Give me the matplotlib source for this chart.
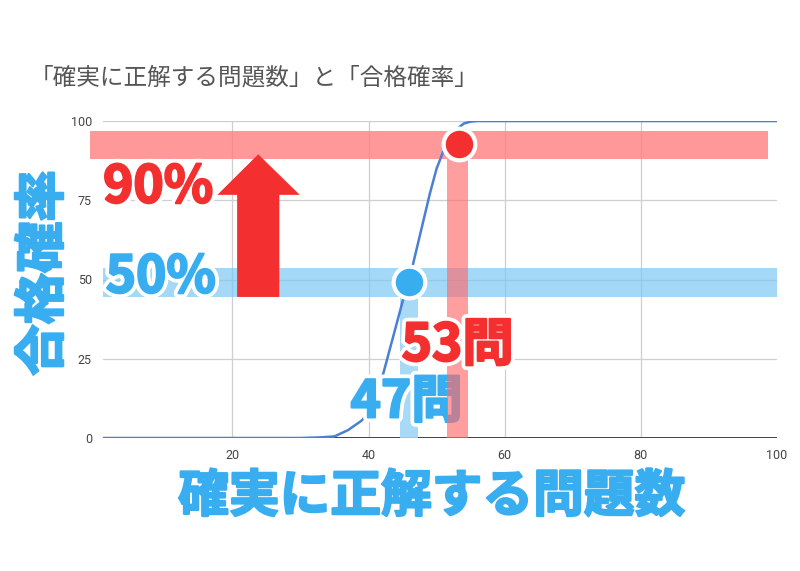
import matplotlib.pyplot as plt
import matplotlib.patheffects as pe
import numpy as np

plt.rcParams['font.family'] = ['Noto Sans CJK JP', 'DejaVu Sans']

# Data
x_vals = [1, 30, 33, 35, 37, 38, 39, 40, 41, 42, 43, 44, 45, 46, 47, 48,
          49, 50, 51, 52, 53, 54, 55, 56, 100]
y_vals = [0, 0, 0.2, 0.5, 2.5, 4, 5.5, 8, 13, 19, 27, 35, 43, 50, 59, 68,
          77, 85, 90.5, 94.5, 97.5, 99.2, 99.8, 100, 100]

x_ticks = [20, 40, 60, 80, 100]
y_ticks = [0, 25, 50, 75, 100]

pt90 = (53.3, 92.8)
pt50 = (46.0, 49.3)

title = "「確実に正解する問題数」と「合格確率」"
xlabel = "確実に正解する問題数"
ylabel = "合格確率"

RED = "#f3302f"
BLUE = "#38adf0"

fig = plt.figure(figsize=(8, 5.71), dpi=100)
ax = fig.add_axes([103 / 800, 1 - 438 / 571, 674 / 800, 317 / 571])
ax.set_xlim(1, 100)
ax.set_ylim(0, 100)

# grid
for t in [20, 40, 60, 80]:
    ax.axvline(t, color="#cfcfcf", lw=0.9, zorder=0)
for t in [25, 50, 75, 100]:
    ax.axhline(t, color="#cfcfcf", lw=0.9, zorder=0)
ax.axhline(0, color="#333333", lw=1.3, zorder=1)
for s in ax.spines.values():
    s.set_visible(False)

ax.set_xticks(x_ticks)
ax.set_yticks(y_ticks)
ax.tick_params(length=0, labelsize=9, labelcolor="#444444", pad=8)
for lab in ax.get_xticklabels() + ax.get_yticklabels():
    lab.set_fontfamily("Roboto")

# curve
ax.plot(x_vals, y_vals, color="#4a7fd6", lw=1.8, zorder=3)

# bands
ax.fill_between([-0.9, 98.7], 88.0, 96.8, color="#ff8080", alpha=0.8,
                lw=0, zorder=2, clip_on=False)
ax.fill_between([1, 100], 44.5, 53.6, color="#7cc8f5", alpha=0.7,
                lw=0, zorder=2)
ax.fill_between([44.6, 47.2], 0, 44.5, color="#9fd6f7", alpha=0.9,
                lw=0, zorder=2)

# arrow
arrow_x = [20.7, 20.7, 17.8, 23.8, 29.9, 26.9, 26.9]
arrow_y = [44.5, 76.7, 76.7, 89.5, 76.7, 76.7, 44.5]
ax.fill(arrow_x, arrow_y, color=RED, lw=0, zorder=4)


def fx(color, w):
    # white outline plus a thin stroke of the text colour to make it heavier
    return [pe.withStroke(linewidth=w, foreground="white"),
            pe.withStroke(linewidth=1.6, foreground=color)]


ax.text(9.1, 79.2, "90%", color=RED, fontsize=37, fontweight="bold",
        ha="center", va="center", path_effects=fx(RED, 7), zorder=6)
ax.text(9.5, 50.8, "50%", color=BLUE, fontsize=37, fontweight="bold",
        ha="center", va="center", path_effects=fx(BLUE, 7), zorder=6)
ax.text(45.6, 11.4, "47問", color=BLUE, fontsize=37, fontweight="bold",
        ha="center", va="center", path_effects=fx(BLUE, 7), zorder=6)

# red vertical band over 47問
ax.fill_between([51.6, 54.6], 0, 88.0, color="#ff6b6b", alpha=0.65,
                lw=0, zorder=7)

ax.text(53.1, 29.3, "53問", color=RED, fontsize=37, fontweight="bold",
        ha="center", va="center", path_effects=fx(RED, 7), zorder=8)

# dots
ax.scatter(*pt90, s=520, color=RED, edgecolor="white", linewidth=3,
           zorder=9)
ax.scatter(*pt50, s=520, color=BLUE, edgecolor="white", linewidth=3,
           zorder=9)

fig.text(30 / 800, 1 - 78 / 571, title, fontsize=17, color="#555555",
         ha="left", va="center")

fig.text(432 / 800, 1 - 497 / 571, xlabel, fontsize=36.5, fontweight="bold",
         color=BLUE, ha="center", va="center", path_effects=fx(BLUE, 8))
fig.text(43 / 800, 1 - 273 / 571, ylabel, fontsize=37, fontweight="bold",
         color=BLUE, ha="center", va="center", rotation=90,
         path_effects=fx(BLUE, 8))

fig.savefig("out.png", dpi=100, facecolor="white")
